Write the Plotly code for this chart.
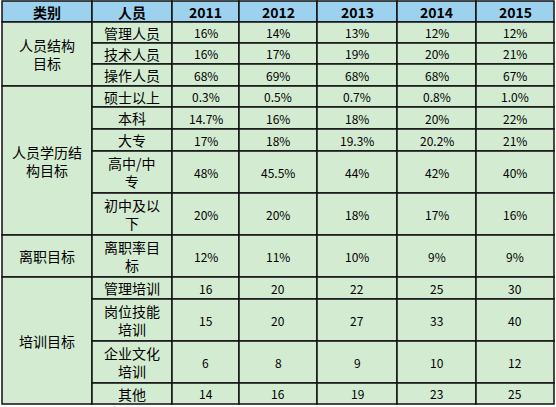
import plotly.graph_objects as go

# data
years = ["2011", "2012", "2013", "2014", "2015"]
groups = ["人员结构<br>目标", "人员学历结<br>构目标", "离职目标", "培训目标"]
group_sizes = [3, 5, 1, 4]
items = ["管理人员", "技术人员", "操作人员", "硕士以上", "本科", "大专",
         "高中/中<br>专", "初中及以<br>下", "离职率目<br>标", "管理培训",
         "岗位技能<br>培训", "企业文化<br>培训", "其他"]
v2011 = ["16%", "16%", "68%", "0.3%", "14.7%", "17%", "48%", "20%", "12%", "16", "15", "6", "14"]
v2012 = ["14%", "17%", "69%", "0.5%", "16%", "18%", "45.5%", "20%", "11%", "20", "20", "8", "16"]
v2013 = ["13%", "19%", "68%", "0.7%", "18%", "19.3%", "44%", "18%", "10%", "22", "27", "9", "19"]
v2014 = ["12%", "20%", "68%", "0.8%", "20%", "20.2%", "42%", "17%", "9%", "25", "33", "10", "23"]
v2015 = ["12%", "21%", "67%", "1.0%", "22%", "21%", "40%", "16%", "9%", "30", "40", "12", "25"]
values = [v2011, v2012, v2013, v2014, v2015]

# layout in pixel coordinates
col_edges = [2, 92, 172, 239, 317, 397, 476, 554]
row_edges = [1, 22, 43, 64, 86, 107, 129, 151, 193, 235, 277, 299, 341, 383, 404]
HEAD = "#9dd2ef"
BODY = "#d3ebd0"
LINE = "#111111"
CJK = "Noto Sans CJK SC"

shapes, annos = [], []


def cell(x0, x1, y0, y1, fill, text, size=14, bold=False):
    shapes.append(dict(type="rect", x0=x0, x1=x1, y0=y0, y1=y1, fillcolor=fill,
                       line=dict(color=LINE, width=1.5), layer="below"))
    annos.append(dict(x=(x0 + x1) / 2, y=(y0 + y1) / 2, text=f"<b>{text}</b>" if bold else text,
                      showarrow=False, font=dict(family=CJK, size=size, color="black")))


headers = ["类别", "人员"] + years
for c, h in enumerate(headers):
    cell(col_edges[c], col_edges[c + 1], row_edges[0], row_edges[1], HEAD, h, size=14, bold=True)

r = 0
for g, n in zip(groups, group_sizes):
    cell(col_edges[0], col_edges[1], row_edges[r + 1], row_edges[r + 1 + n], BODY, g, size=14)
    r += n

for i, it in enumerate(items):
    y0, y1 = row_edges[i + 1], row_edges[i + 2]
    cell(col_edges[1], col_edges[2], y0, y1, BODY, it, size=14)
    for c, vals in enumerate(values):
        cell(col_edges[c + 2], col_edges[c + 3], y0, y1, BODY, vals[i], size=12)

fig = go.Figure()
fig.update_layout(
    width=556, height=407, margin=dict(l=0, r=0, t=0, b=0),
    paper_bgcolor="white", plot_bgcolor="white",
    xaxis=dict(range=[0, 556], visible=False, fixedrange=True),
    yaxis=dict(range=[407, 0], visible=False, fixedrange=True),
    shapes=shapes, annotations=annos, showlegend=False,
)
fig.write_html("out.html", config={"displayModeBar": False},
               post_script="document.body.style.margin='0';document.body.style.overflow='hidden';")
